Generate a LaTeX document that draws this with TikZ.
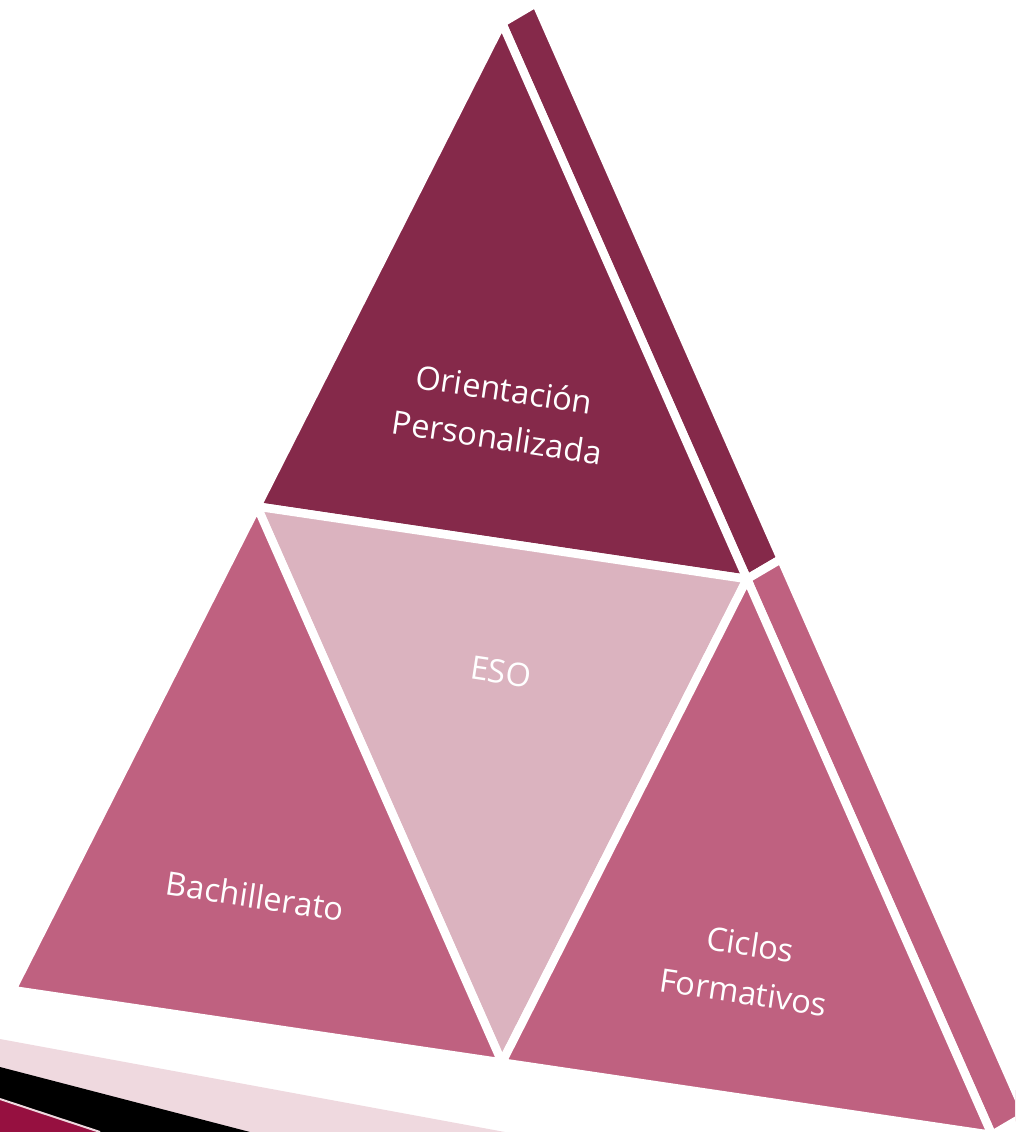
\documentclass[tikz,border=0pt]{standalone}
\usepackage{fontspec}
\setmainfont{Open Sans}
\usetikzlibrary{calc, positioning}
\definecolor{plumdark}{RGB}{133,41,74}
\definecolor{rosemid}{RGB}{191,97,128}
\definecolor{roselight}{RGB}{219,179,191}
\definecolor{bandpink}{RGB}{239,217,223}
\definecolor{bandred}{RGB}{150,16,64}
\tikzset{%
	facet/.style={
		draw=white,
		line width=0.17cm,
		line join=miter
	},
	facet text/.style={
		text=white,
		font=\fontsize{18.5}{27.5}\selectfont,
		align=center,
		rotate=-8.5
	},
}
\begin{document}
\begin{tikzpicture}[x=0.02cm, y=-0.02cm]
	\useasboundingbox (0,0) rectangle (1015,1132);
	\clip (0,0) rectangle (1015,1132);
	% slide decoration, bottom left
	\fill[bandpink] (0,1039) -- (505,1132) -- (0,1132) -- cycle;
	\fill[black] (0,1067) -- (250,1132) -- (0,1132) -- cycle;
	\fill[bandred] (0,1099) -- (100,1132) -- (0,1132) -- cycle;
	\draw[bandpink, line width=0.04cm] (0,1099) -- (100,1132);
	% pyramid corners
	\coordinate (apex) at (502,23);
	\coordinate (left) at (12,990);
	\coordinate (right) at (992,1135);
	\coordinate (midL) at ($(apex)!0.5!(left)$);
	\coordinate (midR) at ($(apex)!0.5!(right)$);
	\coordinate (midB) at ($(left)!0.5!(right)$);
	% side faces
	\filldraw[facet, fill=plumdark] (apex) -- (midR) -- ($(midR)+(34,-20)$) -- ($(apex)+(34,-20)$) -- cycle;
	\filldraw[facet, fill=rosemid] (midR) -- (right) -- ($(right)+(34,-20)$) -- ($(midR)+(34,-20)$) -- cycle;
	% front faces
	\filldraw[facet, fill=plumdark] (apex) -- (midL) -- (midR) -- cycle;
	\filldraw[facet, fill=roselight] (midL) -- (midR) -- (midB) -- cycle;
	\filldraw[facet, fill=rosemid] (midL) -- (left) -- (midB) -- cycle;
	\filldraw[facet, fill=rosemid] (midR) -- (midB) -- (right) -- cycle;
	% labels
	\node[facet text] (orientacion) at (501,413) {Orientación\\Personalizada};
	\node[facet text] (eso) at (501,672) {ESO};
	\node[facet text] (bachillerato) at (255,896) {Bachillerato};
	\node[facet text] (ciclos) at (747,968) {Ciclos\\Formativos};
\end{tikzpicture}
\end{document}
